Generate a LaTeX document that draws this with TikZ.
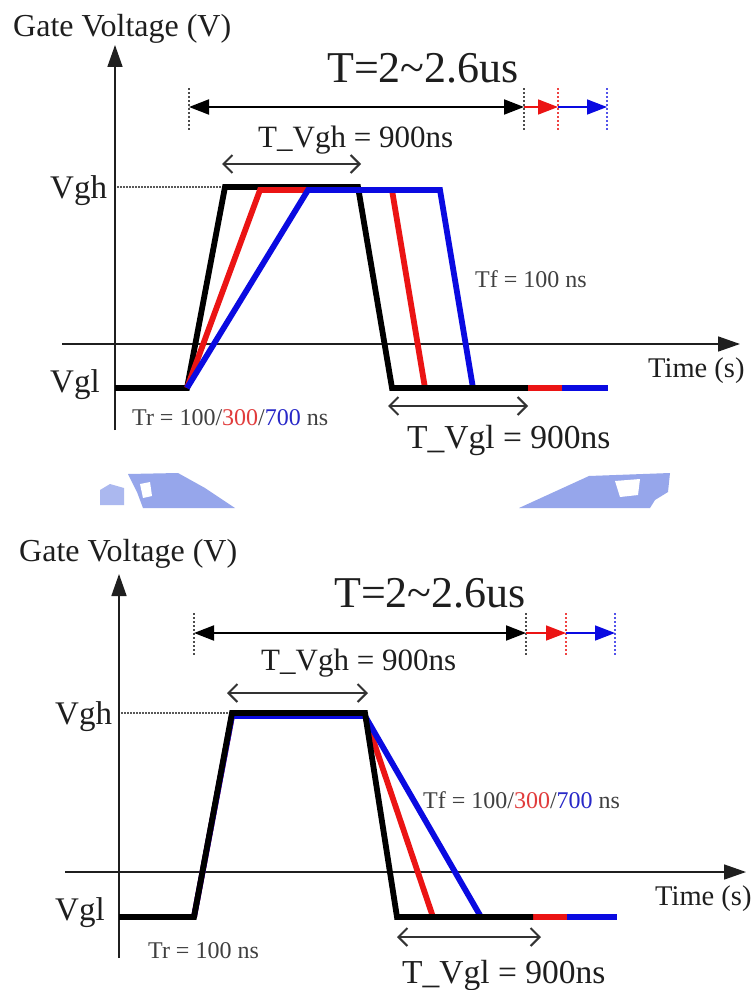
\documentclass[tikz,border=0pt]{standalone}
\usepackage{fontspec}
\setmainfont{Liberation Serif}
\usetikzlibrary{arrows.meta}
\definecolor{wred}{RGB}{235,20,20}
\definecolor{wblue}{RGB}{10,10,225}
\definecolor{tred}{RGB}{225,60,60}
\definecolor{tblue}{RGB}{40,40,200}
\definecolor{wm}{RGB}{150,166,235}
\definecolor{txt}{RGB}{30,30,30}
\newcommand\setfs[1]{\fontsize{#1}{#1}\selectfont}
\tikzset{
  lbl/.style={anchor=base west, inner sep=0pt, text=txt},
  axisline/.style={draw=black!88, line width=1.6pt, -{Triangle[length=22pt,width=15pt]}},
  wave/.style={line width=5.8pt, line cap=butt, line join=miter},
  dimline/.style={draw=black!80, line width=2pt, {Straight Barb[length=9pt,width=18pt]}-{Straight Barb[length=9pt,width=18pt]}},
  periodline/.style={line width=2pt, {Triangle[length=20pt,width=15pt]}-{Triangle[length=20pt,width=15pt]}},
  extline/.style={line width=1.6pt, -{Triangle[length=20pt,width=15pt]}},
  marker/.style={dash pattern=on 2pt off 2pt, line width=1.4pt},
  levelline/.style={draw=black!65, dash pattern=on 1.5pt off 1.5pt, line width=1.3pt}
}
\begin{document}
\begin{tikzpicture}[x=1pt,y=-1pt]
\fill[white] (0,0) rectangle (750,990);
\useasboundingbox (0,0) rectangle (750,990);

% ---------------- watermark ----------------
\fill[wm] (128,474) -- (178,473) -- (205,488) -- (235,508) -- (143,508) -- (137,492) -- cycle;
\fill[wm!80] (100,490) -- (110,484) -- (124,488) -- (124,505) -- (100,505) -- cycle;
\fill[white] (140,484) -- (150,482) -- (152,496) -- (143,498) -- cycle;
\fill[wm] (519,508) -- (589,476) -- (670,473) -- (668,492) -- (655,500) -- (650,508) -- cycle;
\fill[white] (615,481) -- (640,479) -- (638,495) -- (620,497) -- cycle;

% ================= TOP DIAGRAM =================
\coordinate (yb1) at (115,430); \coordinate (yt1) at (115,45);
\coordinate (xl1) at (62,344);  \coordinate (xr1) at (740,344);
\draw[axisline] (yb1) -- (yt1);
\draw[axisline] (xl1) -- (xr1);

\node[lbl, font=\setfs{32}] (gv1) at (13,37) {Gate Voltage (V)};
\node[lbl, font=\setfs{44}] (tp1) at (327,82) {T=2\textasciitilde 2.6us};
\node[lbl, font=\setfs{31}] (tvgh1) at (258,147) {T\_Vgh = 900ns};
\node[lbl, font=\setfs{33}] (vgh1) at (50,198) {Vgh};
\node[lbl, font=\setfs{33}] (vgl1) at (50,392) {Vgl};
\node[lbl, font=\setfs{28.5}] (time1) at (648,377) {Time (s)};
\node[lbl, font=\setfs{24}, text=black!75] (tf1) at (475,287) {Tf = 100 ns};
\node[lbl, font=\setfs{24}, text=black!75] (tr1) at (132,425) {Tr = 100/\textcolor{tred}{300}/\textcolor{tblue}{700} ns};
\node[lbl, font=\setfs{33.5}] (tvgl1) at (407,448) {T\_Vgl = 900ns};

% period arrows
\coordinate (ta1) at (189,107); \coordinate (tb1) at (524,107);
\coordinate (tc1) at (558,107); \coordinate (td1) at (607,107);
\draw[marker, black!70] ([yshift=19pt]ta1) -- ([yshift=-23pt]ta1);
\draw[marker, black!70] ([yshift=19pt]tb1) -- ([yshift=-23pt]tb1);
\draw[marker, wred!80] ([yshift=19pt]tc1) -- ([yshift=-23pt]tc1);
\draw[marker, wblue!70] ([yshift=19pt]td1) -- ([yshift=-23pt]td1);
\draw[periodline] (ta1) -- (tb1);
\draw[extline, wred] (tb1) -- (tc1);
\draw[extline, wblue] (tc1) -- (td1);

% dimension arrows
\coordinate (va1) at (222,164); \coordinate (vb1) at (361,164);
\draw[dimline] (va1) -- (vb1);
\coordinate (wa1) at (388,406); \coordinate (wb1) at (528,406);
\draw[dimline] (wa1) -- (wb1);

% Vgh level
\coordinate (la1) at (117,187); \coordinate (lb1) at (222,187);
\draw[levelline] (la1) -- (lb1);

% waveforms
\coordinate (k0) at (115,388); \coordinate (k1) at (187,388);
\coordinate (k2) at (225,187); \coordinate (k3) at (358,187);
\coordinate (k4) at (392,388); \coordinate (k5) at (528,388);
\coordinate (r2) at (260,190); \coordinate (r3) at (392,190);
\coordinate (r4) at (425,388); \coordinate (r5) at (562,388);
\coordinate (b2) at (308,190); \coordinate (b3) at (440,190);
\coordinate (b4) at (473,388); \coordinate (b5) at (608,388);
\draw[wave, black] (k0) -- (k1) -- (k2) -- (k3) -- (k4) -- (k5);
\draw[wave, wred] (k1) -- (r2) -- (r3) -- (r4);
\draw[wave, wblue] (k1) -- (b2) -- (b3) -- (b4);
\draw[wave, wred] (k5) -- (r5);
\draw[wave, wblue] (r5) -- (b5);
\draw[wave, black] (k4) -- (k5);

% ================= BOTTOM DIAGRAM =================
\coordinate (yb2) at (119,958); \coordinate (yt2) at (119,574);
\coordinate (xl2) at (65,872);  \coordinate (xr2) at (746,872);
\draw[axisline] (yb2) -- (yt2);
\draw[axisline] (xl2) -- (xr2);

\node[lbl, font=\setfs{32}] (gv2) at (19,561) {Gate Voltage (V)};
\node[lbl, font=\setfs{44}] (tp2) at (334,607) {T=2\textasciitilde 2.6us};
\node[lbl, font=\setfs{31}] (tvgh2) at (261,670) {T\_Vgh = 900ns};
\node[lbl, font=\setfs{33}] (vgh2) at (55,724) {Vgh};
\node[lbl, font=\setfs{33}] (vgl2) at (55,920) {Vgl};
\node[lbl, font=\setfs{28.5}] (time2) at (655,905) {Time (s)};
\node[lbl, font=\setfs{24}, text=black!75] (tf2) at (423,808) {Tf = 100/\textcolor{tred}{300}/\textcolor{tblue}{700} ns};
\node[lbl, font=\setfs{24}, text=black!75] (tr2) at (148,958) {Tr = 100 ns};
\node[lbl, font=\setfs{33.5}] (tvgl2) at (402,983) {T\_Vgl = 900ns};

% period arrows
\coordinate (ta2) at (194,633); \coordinate (tb2) at (526,633);
\coordinate (tc2) at (566,633); \coordinate (td2) at (615,633);
\draw[marker, black!70] ([yshift=20pt]ta2) -- ([yshift=-22pt]ta2);
\draw[marker, black!70] ([yshift=20pt]tb2) -- ([yshift=-22pt]tb2);
\draw[marker, wred!80] ([yshift=20pt]tc2) -- ([yshift=-22pt]tc2);
\draw[marker, wblue!70] ([yshift=20pt]td2) -- ([yshift=-22pt]td2);
\draw[periodline] (ta2) -- (tb2);
\draw[extline, wred] (tb2) -- (tc2);
\draw[extline, wblue] (tc2) -- (td2);

% dimension arrows
\coordinate (va2) at (227,693); \coordinate (vb2) at (368,693);
\draw[dimline] (va2) -- (vb2);
\coordinate (wa2) at (397,937); \coordinate (wb2) at (541,937);
\draw[dimline] (wa2) -- (wb2);

% Vgh level
\coordinate (la2) at (121,713); \coordinate (lb2) at (229,713);
\draw[levelline] (la2) -- (lb2);

% waveforms
\coordinate (m0) at (119,917); \coordinate (m1) at (194,917);
\coordinate (m2) at (232,713); \coordinate (m3) at (365,713);
\coordinate (m4) at (397,917); \coordinate (m5) at (533,917);
\coordinate (n2) at (232,716); \coordinate (n3) at (365,716);
\coordinate (s4) at (433,917); \coordinate (s5) at (567,917);
\coordinate (u4) at (481,917); \coordinate (u5) at (617,917);
\draw[wave, wred] (m1) -- (n2) -- (n3) -- (s4);
\draw[wave, wblue] (m1) -- (n2) -- (n3) -- (u4);
\draw[wave, wred] (m5) -- (s5);
\draw[wave, wblue] (s5) -- (u5);
\draw[wave, black] (m0) -- (m1) -- (m2) -- (m3) -- (m4) -- (m5);
\end{tikzpicture}
\end{document}
